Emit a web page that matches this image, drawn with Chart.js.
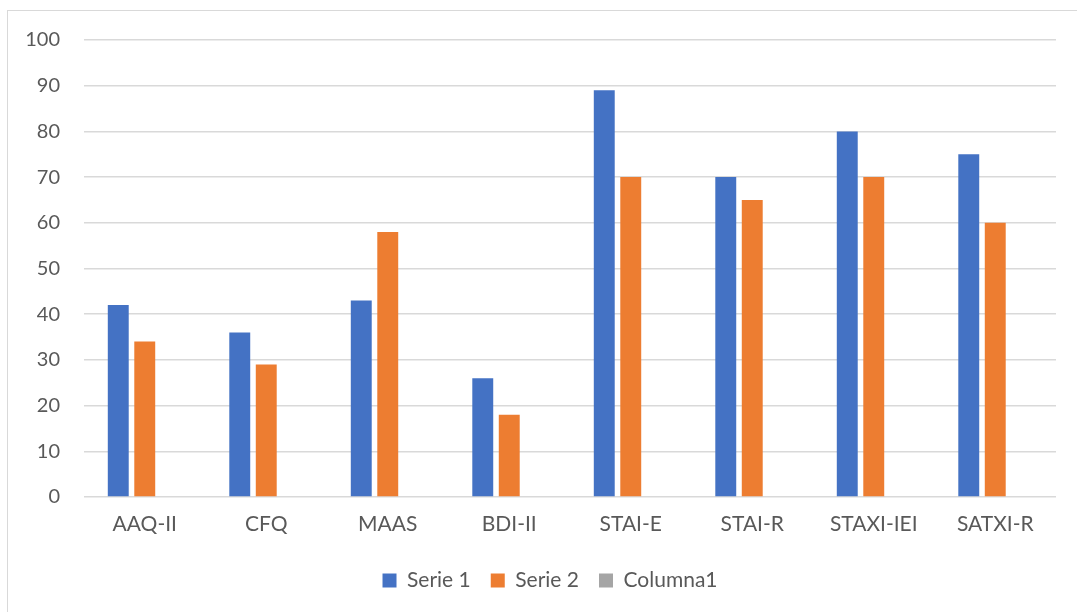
<!DOCTYPE html>
<html>
<head>
<meta charset="utf-8">
<script src="https://cdn.jsdelivr.net/npm/chart.js@4.4.1/dist/chart.umd.min.js"></script>
<style>
  html, body { margin: 0; padding: 0; background: #ffffff; }
  #frame {
    position: absolute; left: 7px; top: 10px;
    width: 1200px; height: 700px;
    border: 1.5px solid #d9d9d9; box-sizing: border-box;
  }
  #wrap { position: absolute; left: 0; top: 0; width: 1077px; height: 612px; }
</style>
</head>
<body>
<div id="frame"></div>
<div id="wrap"><canvas id="chart" width="1077" height="612"></canvas></div>
<script>
// Test scores per instrument
const categories = ['AAQ-II', 'CFQ', 'MAAS', 'BDI-II', 'STAI-E', 'STAI-R', 'STAXI-IEI', 'SATXI-R'];
const serie1 = [42, 36, 43, 26, 89, 70, 80, 75];
const serie2 = [34, 29, 58, 18, 70, 65, 70, 60];
const columna1 = [null, null, null, null, null, null, null, null];
const yTicks = [0, 10, 20, 30, 40, 50, 60, 70, 80, 90, 100];

const FONT = 'Lato, "Open Sans", sans-serif';
const TEXT = '#595959';

new Chart(document.getElementById('chart'), {
  type: 'bar',
  data: {
    labels: categories,
    datasets: [
      { label: 'Serie 1', data: serie1, backgroundColor: '#4472c4' },
      { label: 'Serie 2', data: serie2, backgroundColor: '#ed7d31' },
      { label: 'Columna1', data: columna1, backgroundColor: '#a5a5a5' }
    ]
  },
  options: {
    responsive: false,
    animation: false,
    layout: { padding: { left: 23, right: 0, top: 40, bottom: 11 } },
    datasets: { bar: { categoryPercentage: 0.654, barPercentage: 0.79 } },
    scales: {
      x: {
        grid: { display: false, drawTicks: false },
        border: { display: false },
        ticks: { color: TEXT, font: { family: FONT, size: 21 }, padding: 15, maxRotation: 0 },
        afterFit: s => { s.height = 53; }
      },
      y: {
        min: 0, max: 100,
        afterBuildTicks: s => { s.ticks = yTicks.map(v => ({ value: v })); },
        grid: { color: '#d9d9d9', lineWidth: 1.5, drawTicks: false },
        border: { display: false },
        ticks: { color: TEXT, font: { family: FONT, size: 20 }, padding: 24 },
        afterFit: s => { s.width = 61; }
      },
      pad: {
        position: 'right', display: true,
        grid: { display: false, drawTicks: false },
        border: { display: false },
        ticks: { display: false },
        afterFit: s => { s.width = 21; }
      }
    },
    plugins: {
      legend: {
        position: 'bottom',
        labels: {
          color: TEXT, font: { family: FONT, size: 21 },
          boxWidth: 14, boxHeight: 14, padding: 20
        }
      },
      tooltip: { enabled: false }
    }
  }
});
</script>
</body>
</html>
